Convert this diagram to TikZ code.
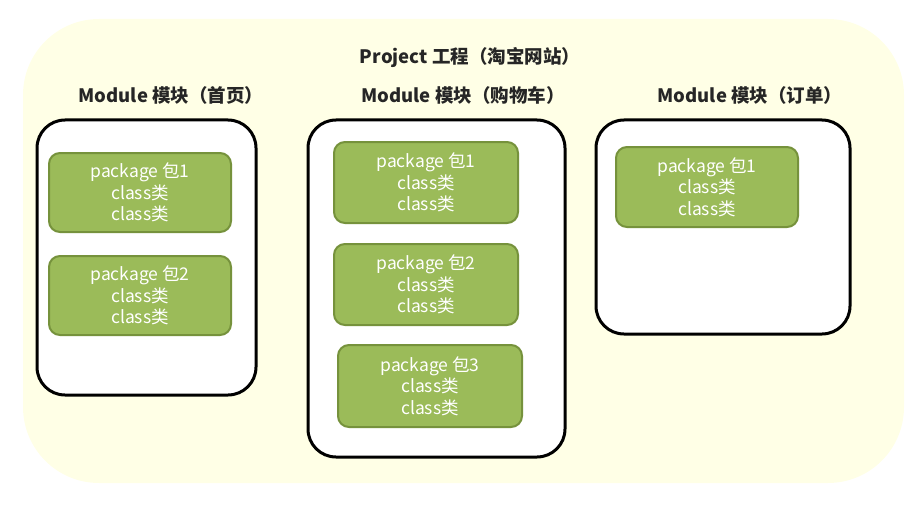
\documentclass[tikz,border=0pt]{standalone}
\usepackage{fontspec}
\setmainfont{Noto Sans CJK SC}
\definecolor{bgyellow}{RGB}{255,255,230}
\definecolor{pkgfill}{RGB}{155,187,89}
\definecolor{pkgline}{RGB}{118,146,60}
\definecolor{titlegray}{RGB}{38,38,38}
\tikzset{
  modbox/.style={draw=black, line width=3pt, fill=white, rounded corners=28pt, inner sep=0pt},
  pkgbox/.style={draw=pkgline, line width=2pt, fill=pkgfill, rounded corners=11pt, inner sep=0pt,
    text=white, align=center, font=\fontsize{17.5}{21.5}\selectfont},
  titletext/.style={text=titlegray, font=\fontsize{18.5}{20}\selectfont\bfseries, inner sep=0pt}
}
\begin{document}
\begin{tikzpicture}[x=1pt,y=-1pt]
\useasboundingbox (0,0) rectangle (915,508);
\fill[bgyellow, rounded corners=76pt] (23,19) rectangle (904,483);
\node[titletext] (proj) at (470,58) {Project 工程（淘宝网站）};
\node[titletext] (t1) at (171,95) {Module 模块（首页）};
\node[titletext] (t2) at (463,95) {Module 模块（购物车）};
\node[titletext] (t3) at (750,95) {Module 模块（订单）};
\node[modbox, minimum width=219pt, minimum height=275pt] (m1) at (146.5,257.5) {};
\node[modbox, minimum width=257pt, minimum height=337pt] (m2) at (436.5,288.5) {};
\node[modbox, minimum width=254pt, minimum height=214pt] (m3) at (723,227) {};
\node[pkgbox, minimum width=182pt, minimum height=79pt] (m1p1) at (140,192.5) {package 包1\\class类\\class类};
\node[pkgbox, minimum width=182pt, minimum height=79pt] (m1p2) at (140,295.5) {package 包2\\class类\\class类};
\node[pkgbox, minimum width=184pt, minimum height=81pt] (m2p1) at (426,182.5) {package 包1\\class类\\class类};
\node[pkgbox, minimum width=184pt, minimum height=81pt] (m2p2) at (426,284.5) {package 包2\\class类\\class类};
\node[pkgbox, minimum width=184pt, minimum height=82pt] (m2p3) at (430,386) {package 包3\\class类\\class类};
\node[pkgbox, minimum width=182pt, minimum height=80pt] (m3p1) at (707,187) {package 包1\\class类\\class类};
\end{tikzpicture}
\end{document}
